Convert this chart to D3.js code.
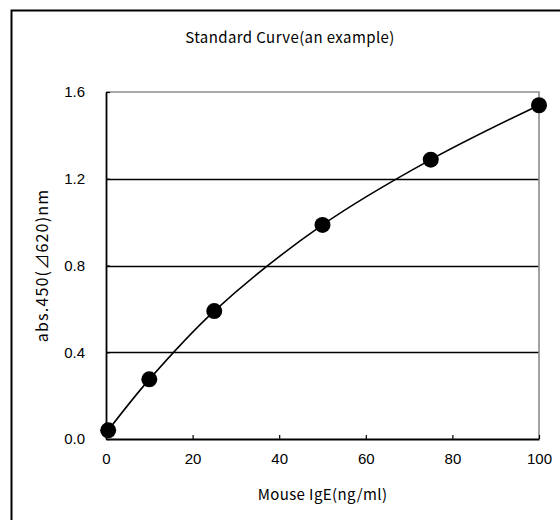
<!DOCTYPE html>
<html>
<head>
<meta charset="utf-8">
<script src="https://cdn.jsdelivr.net/npm/d3@7"></script>
<style>
  body { margin: 0; background: #fff; }
  svg { display: block; }
</style>
</head>
<body>
<div id="chart"></div>
<script>
// values
const concentrations = [0.5, 10, 25, 50, 75, 100];
const absorbance = [0.04, 0.275, 0.59, 0.987, 1.288, 1.539];
const xTicks = [0, 20, 40, 60, 80, 100];
const yTicks = [0.0, 0.4, 0.8, 1.2, 1.6];

const width = 560, height = 520;
const margin = {top: 92, right: 21, bottom: 81, left: 106};

const svg = d3.select('#chart').append('svg')
  .attr('width', width)
  .attr('height', height);

// outer frame (runs off the right and bottom edges)
svg.append('rect')
  .attr('x', 11.5).attr('y', 10.5)
  .attr('width', 700).attr('height', 700)
  .attr('fill', 'none')
  .attr('stroke', '#000')
  .attr('stroke-width', 2);

const x = d3.scaleLinear().domain([0, 100]).range([margin.left, width - margin.right]);
const y = d3.scaleLinear().domain([0, 1.6]).range([height - margin.bottom, margin.top]);

const labelFont = '"Noto Sans CJK JP", "Liberation Sans", sans-serif';

// title
svg.append('text')
  .attr('x', 290).attr('y', 42.5)
  .attr('text-anchor', 'middle')
  .style('font-family', labelFont)
  .style('font-size', '15px')
  .style('letter-spacing', '0.4px')
  .text('Standard Curve(an example)');

// grid lines
svg.append('g')
  .selectAll('line')
  .data(yTicks.filter(d => d > 0 && d < 1.6))
  .join('line')
    .attr('x1', x(0)).attr('x2', x(100))
    .attr('y1', d => Math.round(y(d)) + 0.5).attr('y2', d => Math.round(y(d)) + 0.5)
    .attr('stroke', '#000')
    .attr('stroke-width', 1.3);

// top and right border (grey)
svg.append('path')
  .attr('d', `M${x(0)},${y(1.6)}H${x(100)}V${y(0)}`)
  .attr('fill', 'none')
  .attr('stroke', '#8c8c8c')
  .attr('stroke-width', 1.6);

// x axis
const xAxis = svg.append('g')
  .attr('transform', `translate(0,${y(0)})`)
  .call(d3.axisBottom(x).tickValues(xTicks).tickSizeInner(-4).tickSizeOuter(0).tickPadding(14));
xAxis.select('.domain').attr('stroke-width', 1.8);
xAxis.selectAll('.tick line').attr('stroke-width', 1.2);
xAxis.selectAll('text')
  .style('font-family', '"Liberation Sans", sans-serif')
  .style('font-size', '15px');

// y axis
const yAxis = svg.append('g')
  .attr('transform', `translate(${x(0)},0)`)
  .call(d3.axisLeft(y).tickValues(yTicks).tickFormat(d3.format('.1f')).tickSizeInner(-4).tickSizeOuter(0).tickPadding(21));
yAxis.select('.domain').attr('stroke-width', 1.8);
yAxis.selectAll('.tick line').attr('stroke-width', 1.2);
yAxis.selectAll('text')
  .style('font-family', '"Liberation Sans", sans-serif')
  .style('font-size', '15px');

// axis titles
svg.append('text')
  .attr('x', x(50)).attr('y', 500)
  .attr('text-anchor', 'middle')
  .style('font-family', labelFont)
  .style('font-size', '15px')
  .style('letter-spacing', '0.4px')
  .text('Mouse IgE(ng/ml)');

svg.append('text')
  .attr('transform', `translate(48,${(y(0) + y(1.6)) / 2}) rotate(-90)`)
  .attr('text-anchor', 'middle')
  .style('font-family', labelFont)
  .style('font-size', '16px')
  .style('letter-spacing', '1.2px')
  .text('abs.450(⊿620)nm');

// standard curve
const points = concentrations.map((c, i) => [c, absorbance[i]]);
const line = d3.line()
  .x(d => x(d[0]))
  .y(d => y(d[1]))
  .curve(d3.curveCatmullRom.alpha(0.5));

svg.append('path')
  .datum(points)
  .attr('d', line)
  .attr('fill', 'none')
  .attr('stroke', '#000')
  .attr('stroke-width', 1.6);

svg.append('g')
  .selectAll('circle')
  .data(points)
  .join('circle')
    .attr('cx', d => x(d[0]))
    .attr('cy', d => y(d[1]))
    .attr('r', 8)
    .attr('fill', '#000');
</script>
</body>
</html>
